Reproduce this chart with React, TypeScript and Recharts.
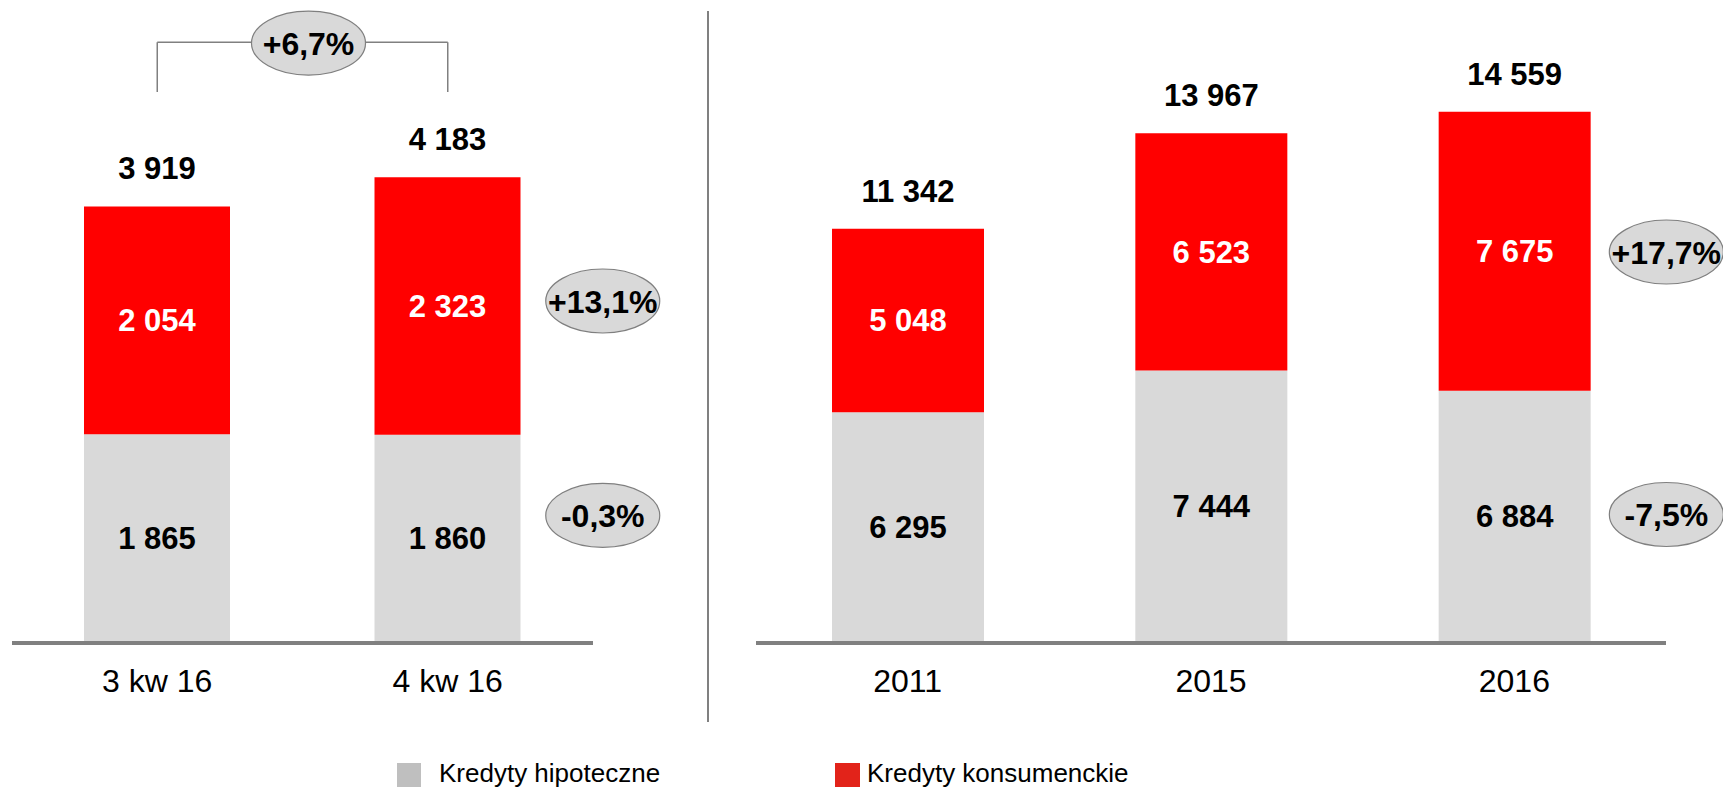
import { BarChart, Bar, XAxis, YAxis, LabelList, ReferenceLine, ReferenceDot } from "recharts";

// dane z wykresu
const quarters = ["3 kw 16", "4 kw 16"];
const quarterMortgage = [1865, 1860];
const quarterConsumer = [2054, 2323];
const quarterTotals = [3919, 4183];

const years = ["2011", "2015", "2016"];
const yearMortgage = [6295, 7444, 6884];
const yearConsumer = [5048, 6523, 7675];
const yearTotals = [11342, 13967, 14559];

const seriesNames = ["Kredyty hipoteczne", "Kredyty konsumenckie"];

// dynamika (etykiety w elipsach)
const quarterChange = "+6,7%";
const quarterNotes = [
  { x: "4 kw 16", y: 3066, text: "+13,1%" },
  { x: "4 kw 16", y: 1132, text: "-0,3%" },
];
const yearNotes = [
  { x: "2016", y: 10700, text: "+17,7%" },
  { x: "2016", y: 3480, text: "-7,5%" },
];

const grayBar = "#D9D9D9";
const redBar = "#FF0000";
const legendColors = ["#BFBFBF", "#E2231A"];
const font = "'Liberation Sans', Arial, sans-serif";

const fmt = (v: any) => String(v).replace(/\B(?=(\d{3})+(?!\d))/g, " ");

const buildRows = (cats: string[], a: number[], b: number[], t: number[]) =>
  cats.map((name, i) => ({ name, hipoteczne: a[i], konsumenckie: b[i], total: t[i] }));

const quarterRows = buildRows(quarters, quarterMortgage, quarterConsumer, quarterTotals);
const yearRows = buildRows(years, yearMortgage, yearConsumer, yearTotals);

function Bubble({ cx, cy, text }: { cx: number; cy: number; text: string }) {
  return (
    <g>
      <ellipse cx={cx} cy={cy} rx={57} ry={32} fill="#D9D9D9" stroke="#7F7F7F" strokeWidth={1.2} />
      <text x={cx} y={cy + 11.5} textAnchor="middle" fontSize={32} fontWeight="bold" fill="#000" fontFamily={font}>
        {text}
      </text>
    </g>
  );
}

function BracketLabel(props: any) {
  const vb = props.viewBox || {};
  return <Bubble cx={vb.x + vb.width / 2 + 6} cy={vb.y + 1} text={props.text} />;
}

const labelStyle = { fontSize: 31, fontWeight: "bold", fontFamily: font };

function Panel({ rows, width, left, margin, barSize, domainMax, notes, dx, children }: any) {
  return (
    <div style={{ position: "absolute", left, top: 0 }}>
      <BarChart width={width} height={789} data={rows} margin={margin}>
        <XAxis
          dataKey="name"
          height={60}
          axisLine={{ stroke: "#808080", strokeWidth: 4, transform: "translate(0,2)" }}
          tickLine={false}
          tickSize={6}
          tickMargin={22}
          tick={{ fill: "#000", fontSize: 32, fontFamily: font }}
        />
        <YAxis hide domain={[0, domainMax]} />
        <Bar dataKey="hipoteczne" stackId="a" fill={grayBar} barSize={barSize} isAnimationActive={false}>
          <LabelList dataKey="hipoteczne" position="center" formatter={fmt} fill="#000" style={labelStyle} />
        </Bar>
        <Bar dataKey="konsumenckie" stackId="a" fill={redBar} barSize={barSize} isAnimationActive={false}>
          <LabelList dataKey="konsumenckie" position="center" formatter={fmt} fill="#fff" style={labelStyle} />
          <LabelList dataKey="total" position="top" offset={27} formatter={fmt} fill="#000" style={labelStyle} />
        </Bar>
        {children}
        {notes.map((n: any) => (
          <ReferenceDot
            key={n.text}
            x={n.x}
            y={n.y}
            r={0}
            shape={(p: any) => <Bubble cx={p.cx + dx} cy={p.cy} text={n.text} />}
          />
        ))}
      </BarChart>
    </div>
  );
}

export default function App() {
  return (
    <div style={{ position: "absolute", left: 0, top: 0, width: 1723, height: 789, background: "#fff", fontFamily: font, overflow: "hidden" }}>
      <Panel
        rows={quarterRows}
        width={700}
        left={0}
        margin={{ top: 20, right: 107, left: 12, bottom: 88 }}
        barSize={146}
        domainMax={5600}
        notes={quarterNotes}
        dx={155}
      >
        <ReferenceLine
          segment={[{ x: quarters[0], y: 5400 }, { x: quarters[0], y: 4950 }]}
          stroke="#808080"
          strokeWidth={1.5}
        />
        <ReferenceLine
          segment={[{ x: quarters[1], y: 5400 }, { x: quarters[1], y: 4950 }]}
          stroke="#808080"
          strokeWidth={1.5}
        />
        <ReferenceLine
          segment={[{ x: quarters[0], y: 5400 }, { x: quarters[1], y: 5400 }]}
          stroke="#808080"
          strokeWidth={1.5}
          label={<BracketLabel text={quarterChange} />}
        />
      </Panel>

      <div style={{ position: "absolute", left: 707, top: 11, width: 2, height: 711, background: "#808080" }} />

      <Panel
        rows={yearRows}
        width={1003}
        left={720}
        margin={{ top: 23, right: 57, left: 36, bottom: 88 }}
        barSize={152}
        domainMax={17000}
        notes={yearNotes}
        dx={152}
      />

      {seriesNames.map((name, i) => (
        <div key={name} style={{ position: "absolute", left: i === 0 ? 397 : 835, top: 763 }}>
          <div style={{ position: "absolute", left: 0, top: 0, width: 24 + i, height: 24, background: legendColors[i] }} />
          <div style={{ position: "absolute", left: i === 0 ? 42 : 32, top: -3, fontSize: 26, lineHeight: "26px", color: "#000", whiteSpace: "nowrap" }}>
            {name}
          </div>
        </div>
      ))}
    </div>
  );
}
